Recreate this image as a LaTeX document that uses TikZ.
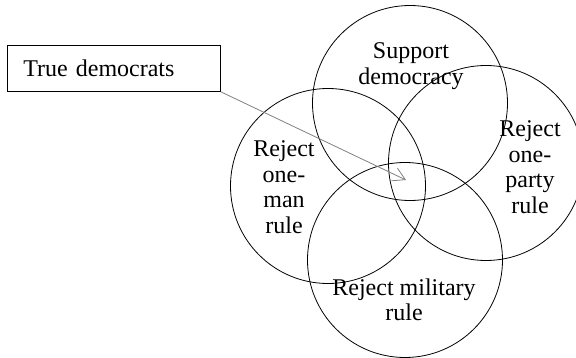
\documentclass[tikz,border=0pt]{standalone}
\usepackage{fontspec}
\setmainfont{Liberation Serif}
\usetikzlibrary{arrows.meta}

\begin{document}
\begin{tikzpicture}[x=1pt, y=-1pt, line width=0.8pt,
    lbl/.style={align=center, inner sep=0pt, font=\fontsize{24}{25.5}\selectfont},
    ring/.style={draw, circle, minimum size=195pt, inner sep=0pt}]
    \useasboundingbox (0,0) rectangle (576,358);

    \node[ring] (S) at (410,103) {}; % support democracy
    \node[ring] (L) at (328,186) {}; % one-man
    \node[ring] (R) at (486,163) {}; % one-party
    \node[ring] (M) at (405,260) {}; % military

    \node[lbl] (tS) at (411,66) {Support\\democracy};
    \node[lbl] (tL) at (284,187) {Reject\\one-\\man\\rule};
    \node[lbl] (tR) at (530,167) {Reject\\one-\\party\\rule};
    \node[lbl] (tM) at (404,300) {Reject military\\rule};

    \node[draw, anchor=north west, minimum height=46pt, text width=181pt,
          inner xsep=16pt, align=left, font=\fontsize{24}{25.5}\selectfont]
          (box) at (7,45) {True democrats};

    \coordinate (tip) at (406,180);
    \draw[gray, -{Straight Barb[length=12pt, width=14pt]}] (box.south east) -- (tip);
\end{tikzpicture}
\end{document}
